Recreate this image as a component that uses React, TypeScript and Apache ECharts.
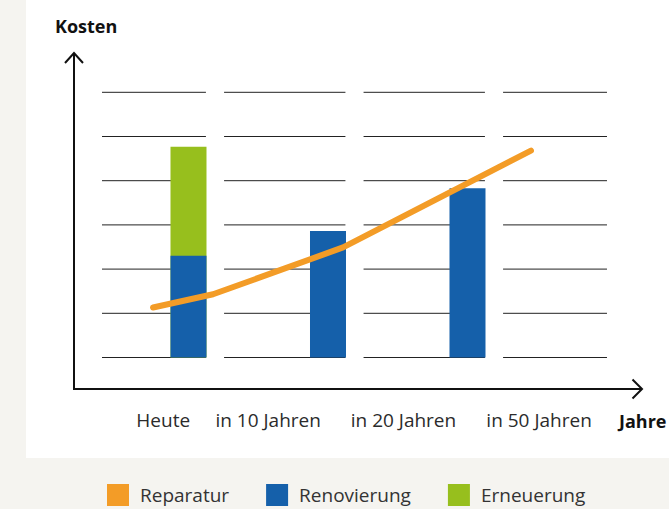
import React, { useEffect, useRef } from "react";
import * as echarts from "echarts";

// ---- data ----
const categories = ["Heute", "in 10 Jahren", "in 20 Jahren", "in 50 Jahren"];
const seriesNames = ["Reparatur", "Renovierung", "Erneuerung"];
// bars: [x position (band units), value]
const renovierung: [number, number][] = [
  [0.81, 2.3],
  [1.81, 2.86],
  [2.81, 3.83],
];
const erneuerung: [number, number][] = [[0.81, 2.47]];
// line: [x position (band units), value]
const reparatur: [number, number][] = [
  [0.556, 1.13],
  [0.986, 1.43],
  [1.918, 2.49],
  [3.265, 4.68],
];
const gridLevels = [0, 1, 2, 3, 4, 5, 6];
const labelPositions = [0.629, 1.381, 2.351, 3.323];
const yAxisName = "Kosten";
const xAxisName = "Jahre";

const COLORS = { orange: "#f39c27", blue: "#1560aa", green: "#97bf1d" };
const FONT = "'Open Sans', 'Noto Sans', sans-serif";

export default function App() {
  const ref = useRef<HTMLDivElement>(null);
  useEffect(() => {
    if (!ref.current) return;
    const chart = echarts.init(ref.current, null, { renderer: "svg" });
    const gridData: [number, number][] = [];
    gridLevels.forEach((lv) => {
      for (let b = 0; b < categories.length; b++) gridData.push([b, lv]);
    });
    // stacked top of Erneuerung = Renovierung below + own value (drawn behind the blue bar)
    const erneuerungStacked = erneuerung.map(([x, v]) => {
      const base = renovierung.find((r) => r[0] === x);
      return [x, (base ? base[1] : 0) + v];
    });
    const option: any = {
      animation: false,
      backgroundColor: "#f5f4f0",
      textStyle: { fontFamily: FONT },
      grid: { left: 75.5, right: 35.5, top: 92.3, bottom: 151.5 },
      xAxis: {
        type: "value",
        min: 0,
        max: 4,
        axisLine: { show: false },
        axisTick: { show: false },
        splitLine: { show: false },
        axisLabel: {
          customValues: labelPositions,
          margin: 53,
          fontSize: 19,
          color: "#2b2b2b",
          fontFamily: FONT,
          formatter: (v: number) => {
            const i = labelPositions.findIndex((p) => Math.abs(p - v) < 1e-6);
            return i >= 0 ? categories[i] : "";
          },
        },
      },
      yAxis: {
        type: "value",
        min: 0,
        max: 6,
        interval: 1,
        axisLine: { show: false },
        axisTick: { show: false },
        axisLabel: { show: false },
        splitLine: { show: false },
      },
      legend: {
        data: seriesNames,
        left: 107,
        top: 484,
        padding: 0,
        icon: "rect",
        itemWidth: 22,
        itemHeight: 22,
        itemGap: 37,
        textStyle: {
          fontSize: 19,
          color: "#333",
          fontFamily: FONT,
          padding: [0, 0, 0, 6],
        },
      },
      graphic: [
        {
          type: "rect",
          z: -10,
          silent: true,
          shape: { x: 26, y: 0, width: 643, height: 458 },
          style: { fill: "#ffffff" },
        },
        {
          type: "polyline",
          z: 10,
          shape: { points: [[74, 53], [74, 389], [642, 389]] },
          style: { stroke: "#111", lineWidth: 2, fill: null },
        },
        {
          type: "polyline",
          z: 10,
          shape: { points: [[65, 63], [74, 53], [83, 63]] },
          style: { stroke: "#111", lineWidth: 2, fill: null },
        },
        {
          type: "polyline",
          z: 10,
          shape: { points: [[632.5, 379.5], [642, 389], [632.5, 398.5]] },
          style: { stroke: "#111", lineWidth: 2, fill: null },
        },
        {
          type: "text",
          x: 55,
          y: 26,
          style: {
            text: yAxisName,
            font: `bold 18px ${FONT}`,
            fill: "#111",
            verticalAlign: "middle",
          },
        },
        {
          type: "text",
          x: 619,
          y: 421,
          style: {
            text: xAxisName,
            font: `bold 18px ${FONT}`,
            fill: "#111",
            verticalAlign: "middle",
          },
        },
      ],
      series: [
        {
          name: "gridlines",
          type: "custom",
          z: 1,
          silent: true,
          data: gridData,
          renderItem: (_params: any, api: any) => {
            const b = api.value(0);
            const lv = api.value(1);
            const x0 = b === 0 ? 0.19 : b + 0.065;
            const x1 = b === categories.length - 1 ? 3.81 : b + 1 - 0.065;
            const p0 = api.coord([x0, lv]);
            const p1 = api.coord([x1, lv]);
            return {
              type: "line",
              shape: { x1: p0[0], y1: p0[1], x2: p1[0], y2: p1[1] },
              style: { stroke: "#222", lineWidth: 1 },
            };
          },
        },
        {
          name: seriesNames[2],
          type: "bar",
          z: 2,
          barWidth: 36,
          barGap: "-100%",
          itemStyle: { color: COLORS.green },
          data: erneuerungStacked,
        },
        {
          name: seriesNames[1],
          type: "bar",
          z: 3,
          barWidth: 36,
          barGap: "-100%",
          itemStyle: { color: COLORS.blue },
          data: renovierung,
        },
        {
          name: seriesNames[0],
          type: "line",
          z: 4,
          symbol: "none",
          color: COLORS.orange,
          lineStyle: { color: COLORS.orange, width: 6, cap: "round", join: "round" },
          data: reparatur,
        },
      ],
    };
    chart.setOption(option);
    return () => chart.dispose();
  }, []);
  return (
    <div
      ref={ref}
      style={{ position: "fixed", left: 0, top: 0, width: 669, height: 509 }}
    />
  );
}
